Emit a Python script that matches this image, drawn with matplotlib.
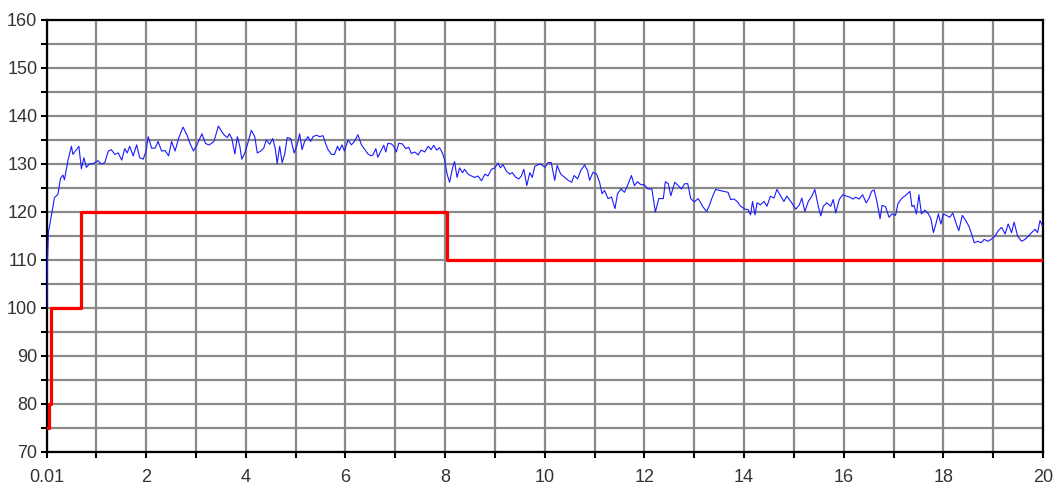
import matplotlib.pyplot as plt
from matplotlib.ticker import FixedLocator

plt.rcParams['font.family'] = ['Liberation Sans', 'DejaVu Sans']

# setpoint (red step line)
set_t = [0.01, 0.05, 0.1, 0.7, 8.03, 20]
set_v = [75, 80, 100, 120, 110, 110]

meas_t = [0.01, 0.02, 0.04, 0.06, 0.16, 0.23, 0.28, 0.33, 0.36, 0.43, 0.50, 0.53, 0.60, 0.65,
          0.70, 0.75, 0.80, 0.87, 0.93, 1.03, 1.10, 1.17, 1.24, 1.30, 1.37, 1.44, 1.51, 1.57,
          1.62, 1.67, 1.74, 1.81, 1.87, 1.94, 2.00, 2.04, 2.11, 2.18, 2.24, 2.31, 2.38, 2.45,
          2.51, 2.58, 2.65, 2.74, 2.82, 2.88, 2.95, 3.02, 3.12, 3.19, 3.25,
          3.27, 3.36, 3.45, 3.52, 3.57, 3.63, 3.67, 3.72, 3.78, 3.83, 3.88, 3.92, 3.98, 4.04,
          4.11, 4.18, 4.23, 4.30, 4.36, 4.41, 4.48, 4.54, 4.59, 4.63, 4.68, 4.73, 4.78, 4.83,
          4.90, 4.97, 5.03, 5.08, 5.13, 5.18, 5.25, 5.30, 5.35, 5.42, 5.48, 5.55, 5.60, 5.65,
          5.72, 5.78, 5.84, 5.88, 5.93, 5.98, 6.05, 6.12, 6.18, 6.25, 6.32, 6.39, 6.45, 6.52,
          6.55, 6.61, 6.65, 6.72, 6.77, 6.81, 6.85, 6.92, 6.97, 7.02, 7.07, 7.14, 7.21, 7.27,
          7.32, 7.39, 7.46, 7.52, 7.59, 7.66, 7.72, 7.77, 7.83, 7.89, 7.95, 7.99, 8.04, 8.09,
          8.15, 8.19, 8.24, 8.29, 8.35, 8.39, 8.46, 8.53, 8.59, 8.66, 8.73, 8.80, 8.86, 8.93,
          9.00, 9.06, 9.11, 9.16, 9.23, 9.30, 9.35, 9.42, 9.48, 9.53, 9.58, 9.64, 9.70, 9.75,
          9.80, 9.87,
          9.92, 10.00, 10.07, 10.13, 10.20, 10.25, 10.32, 10.40, 10.47, 10.54, 10.59, 10.66,
          10.72, 10.80, 10.86, 10.90, 10.97, 11.04, 11.10, 11.15, 11.20, 11.27, 11.34, 11.41,
          11.46, 11.53, 11.60, 11.66, 11.74, 11.80, 11.86, 11.93, 11.99, 12.07, 12.15, 12.22,
          12.29, 12.38, 12.42, 12.48, 12.53, 12.61, 12.68, 12.74, 12.81, 12.87, 12.93, 13.00,
          13.08, 13.18,
          13.25, 13.31, 13.37, 13.43, 13.51, 13.59, 13.68, 13.73, 13.80, 13.86, 13.93, 14.02,
          14.08, 14.13, 14.17, 14.22, 14.26, 14.33, 14.40, 14.46, 14.53, 14.60, 14.66, 14.73,
          14.80, 14.86, 14.95, 15.04, 15.11, 15.16, 15.22, 15.29, 15.36, 15.42, 15.49, 15.54,
          15.59, 15.66, 15.74, 15.79, 15.84, 15.91, 15.98, 16.06, 16.12, 16.19, 16.24, 16.31,
          16.38, 16.45, 16.51,
          16.56, 16.61, 16.66, 16.73, 16.77, 16.84, 16.91, 16.97, 17.04, 17.09, 17.17, 17.26,
          17.33, 17.37, 17.41, 17.46, 17.51, 17.56, 17.63, 17.70, 17.75, 17.80, 17.85, 17.90,
          17.95, 18.00, 18.06, 18.13, 18.19, 18.26, 18.31, 18.38, 18.45, 18.51, 18.58, 18.62,
          18.69, 18.76, 18.82, 18.89, 18.96, 19.04, 19.10, 19.17, 19.24, 19.30, 19.37, 19.42,
          19.49, 19.57, 19.64, 19.71, 19.77, 19.84, 19.89, 19.94, 19.99]
meas_v = [100, 110, 116, 117, 123, 123.7, 127, 127.7, 126.7, 130.7, 133.7, 132, 133, 133.7,
          129, 131.3, 129.3, 130.1, 130, 130.7, 130, 130.3, 132.7, 133, 132, 132.3, 130.8, 133.2,
          132.3, 133.7, 131.7, 134, 131.3, 131, 132.7, 135.7, 133.3, 133.3, 134.7, 132.7, 132.8, 131.7,
          134.7, 132.7, 135.3, 137.7, 136, 134.3, 132.7, 134, 136.3, 134.3, 134,
          134, 134.7, 137.9, 136.7, 136, 135.5, 136.3, 135.3, 132.1, 135.7, 133.7, 131, 132.3, 134.3,
          137, 135.7, 132.3, 132.7, 133.3, 135, 134.1, 135.3, 133.3, 130.1, 133.7, 130.3, 132, 135.5,
          135.3, 132.3, 134, 136.3, 133, 134.7, 135.7, 134.7, 135.7, 136, 135.7, 135.9, 134.3, 133,
          132, 132, 133.7, 132.8, 134, 132.7, 135, 134, 134.7, 136.1, 134, 133, 132.1, 131.7,
          131.9, 133.2, 131.4, 132.9, 133.9, 132.5, 134.3, 134.2, 133.7, 132.5, 134.3, 134.2, 133.2, 133.5,
          132.2, 132.5, 131.9, 132.9, 132.5, 133.7, 133, 133.9, 132.9, 133.4, 132.2, 130.9, 127.9, 126.2,
          129.2, 130.5, 127.2, 129.2, 128.2, 128.9, 127.9, 127.5, 127.2, 127.5, 126.5, 127.9, 127.5, 128.9,
          129.2, 130.2, 129.2, 129.9, 128.5, 127.9, 128.2, 127.2, 126.9, 127.5, 128.9, 125.5, 128.2, 127.2,
          129.5, 129.9,
          130, 129.3, 130.3, 130.3, 126.6, 129.7, 127.9, 127.2, 126.6, 126.2, 127.6, 126.9,
          128.6, 129.8, 128.6, 126.6, 128.3, 127.9, 126.2, 123.8, 124.5, 122.8, 123.1, 120.7,
          123.8, 124.8, 124.1, 125.5, 127.6, 125.5, 126.3, 125.7, 125.7, 124.8, 124.8, 120.0,
          122.8, 122.8, 126.3, 125.9, 123.4, 126.2, 125.5, 124.8, 125.9, 125.9, 122.8, 122.1,
          122.8, 121.0,
          120.1, 121.5, 123.3, 124.7, 124.5, 124.3, 124.1, 122.6, 122.7, 122.2, 121.2, 120.6,
          120.5, 119.4, 122.2, 119.4, 121.9, 121.5, 122.2, 121.2, 123.3, 122.9, 124.7, 123.4,
          122.2, 123.3, 122.0, 120.6, 121.5, 122.9, 120.1, 122.2, 123.3, 124.7, 121.2, 119.2,
          121.2, 121.9, 121.2, 122.6, 119.8, 122.6, 123.6, 123.3, 123.1, 122.7, 123.1, 122.7,
          123.6, 121.9, 122.9,
          124.3, 124.6, 122.5, 118.6, 121.4, 121.1, 118.9, 119.6, 119.3, 121.8, 122.9, 123.6,
          124.3, 121.1, 121.4, 119.6, 123.6, 119.6, 120.4, 119.6, 118.6, 115.7, 117.5, 119.6,
          117.5, 119.6, 119.3, 118.9, 119.8, 117.5, 116.1, 119.3, 118.2, 117.1, 115.0, 113.6,
          113.9, 113.6, 114.3, 113.9, 114.3, 115.0, 116.1, 116.8, 115.4, 117.5, 115.7, 117.9,
          115.0, 113.9, 114.3, 115.0, 115.7, 116.4, 115.7, 118.2, 117.1]

x_labels = ['0.01', '2', '4', '6', '8', '10', '12', '14', '16', '18', '20']
x_label_pos = [0.01, 2, 4, 6, 8, 10, 12, 14, 16, 18, 20]
y_labels = ['70', '80', '90', '100', '110', '120', '130', '140', '150', '160']

fig = plt.figure(figsize=(10.61, 4.87), dpi=100)
ax = fig.add_axes([47 / 1061, 1 - 452 / 487, 996 / 1061, 432 / 487])

ax.plot(meas_t, meas_v, color='#1a1aff', lw=0.8, zorder=3)
ax.step(set_t, set_v, where='post', color='#ff0000', lw=2.3, zorder=4)

ax.set_xlim(0.01, 20)
ax.set_ylim(70, 160)

ax.set_xticks(x_label_pos)
ax.set_xticklabels(x_labels)
ax.xaxis.set_minor_locator(FixedLocator(list(range(1, 20, 2))))
ax.set_yticks([int(v) for v in y_labels])
ax.set_yticklabels(y_labels)
ax.yaxis.set_minor_locator(FixedLocator(list(range(75, 160, 10))))

ax.grid(True, which='both', color='#8a8a8a', lw=1.6, zorder=1)
ax.set_axisbelow(True)

ax.tick_params(which='both', direction='out', length=4, width=1.5, color='black',
               labelsize=13, labelcolor='#333333')
ax.tick_params(axis='x', pad=8)
ax.tick_params(axis='y', pad=3)
for s in ax.spines.values():
    s.set_color('black')
    s.set_linewidth(1.6)

fig.savefig('out.png', dpi=100)
